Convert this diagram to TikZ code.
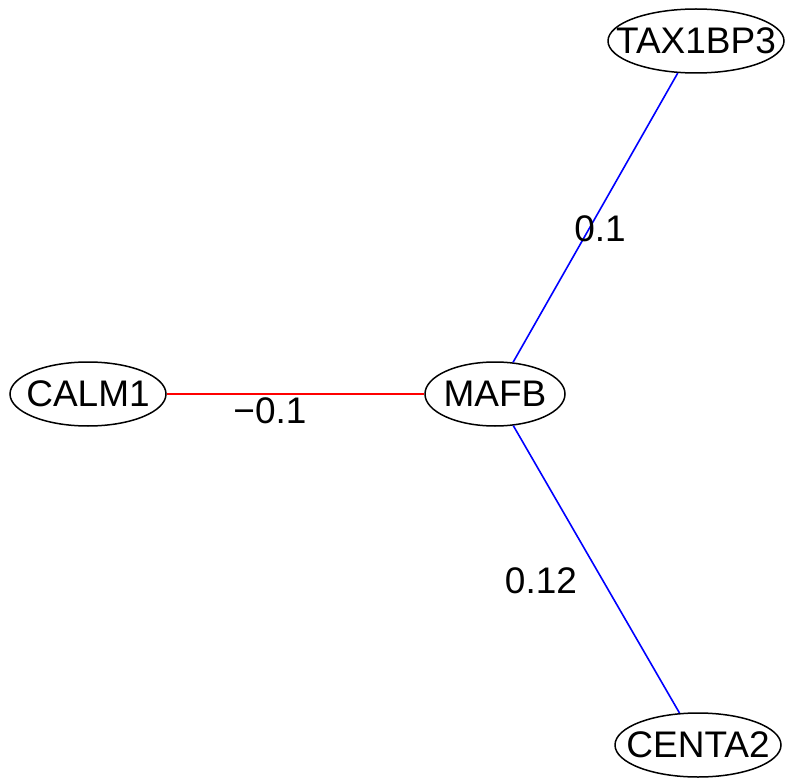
\documentclass[tikz,border=0pt]{standalone}
\usepackage{fontspec}
\setmainfont{Liberation Sans}
\usetikzlibrary{shapes.geometric}
\begin{document}
\begin{tikzpicture}[x=1pt,y=-1pt,
  gnode/.style={draw, ellipse, line width=1.5pt, inner sep=0pt, minimum height=64pt, font=\fontsize{37}{44}\selectfont},
  elabel/.style={font=\fontsize{37}{44}\selectfont, inner sep=0pt},
  posedge/.style={draw=blue, line width=1.6pt},
  negedge/.style={draw=red, line width=1.6pt}]
\useasboundingbox (0,0) rectangle (787,778);
\node[gnode, minimum width=176pt] (tax) at (696,41) {\makebox[0pt]{TAX1BP3}};
\node[gnode, minimum width=140pt] (mafb) at (495,394) {\makebox[0pt]{MAFB}};
\node[gnode, minimum width=156pt] (calm) at (88,394) {\makebox[0pt]{CALM1}};
\node[gnode, minimum width=166pt] (centa) at (698,745) {\makebox[0pt]{CENTA2}};
\draw[posedge] (mafb) -- (tax);
\draw[posedge] (mafb) -- (centa);
\draw[negedge] (calm) -- (mafb);
\node[elabel] (l1) at (600,229) {0.1};
\node[elabel] (l2) at (270,411) {−0.1};
\node[elabel] (l3) at (541,581) {0.12};
\end{tikzpicture}
\end{document}
